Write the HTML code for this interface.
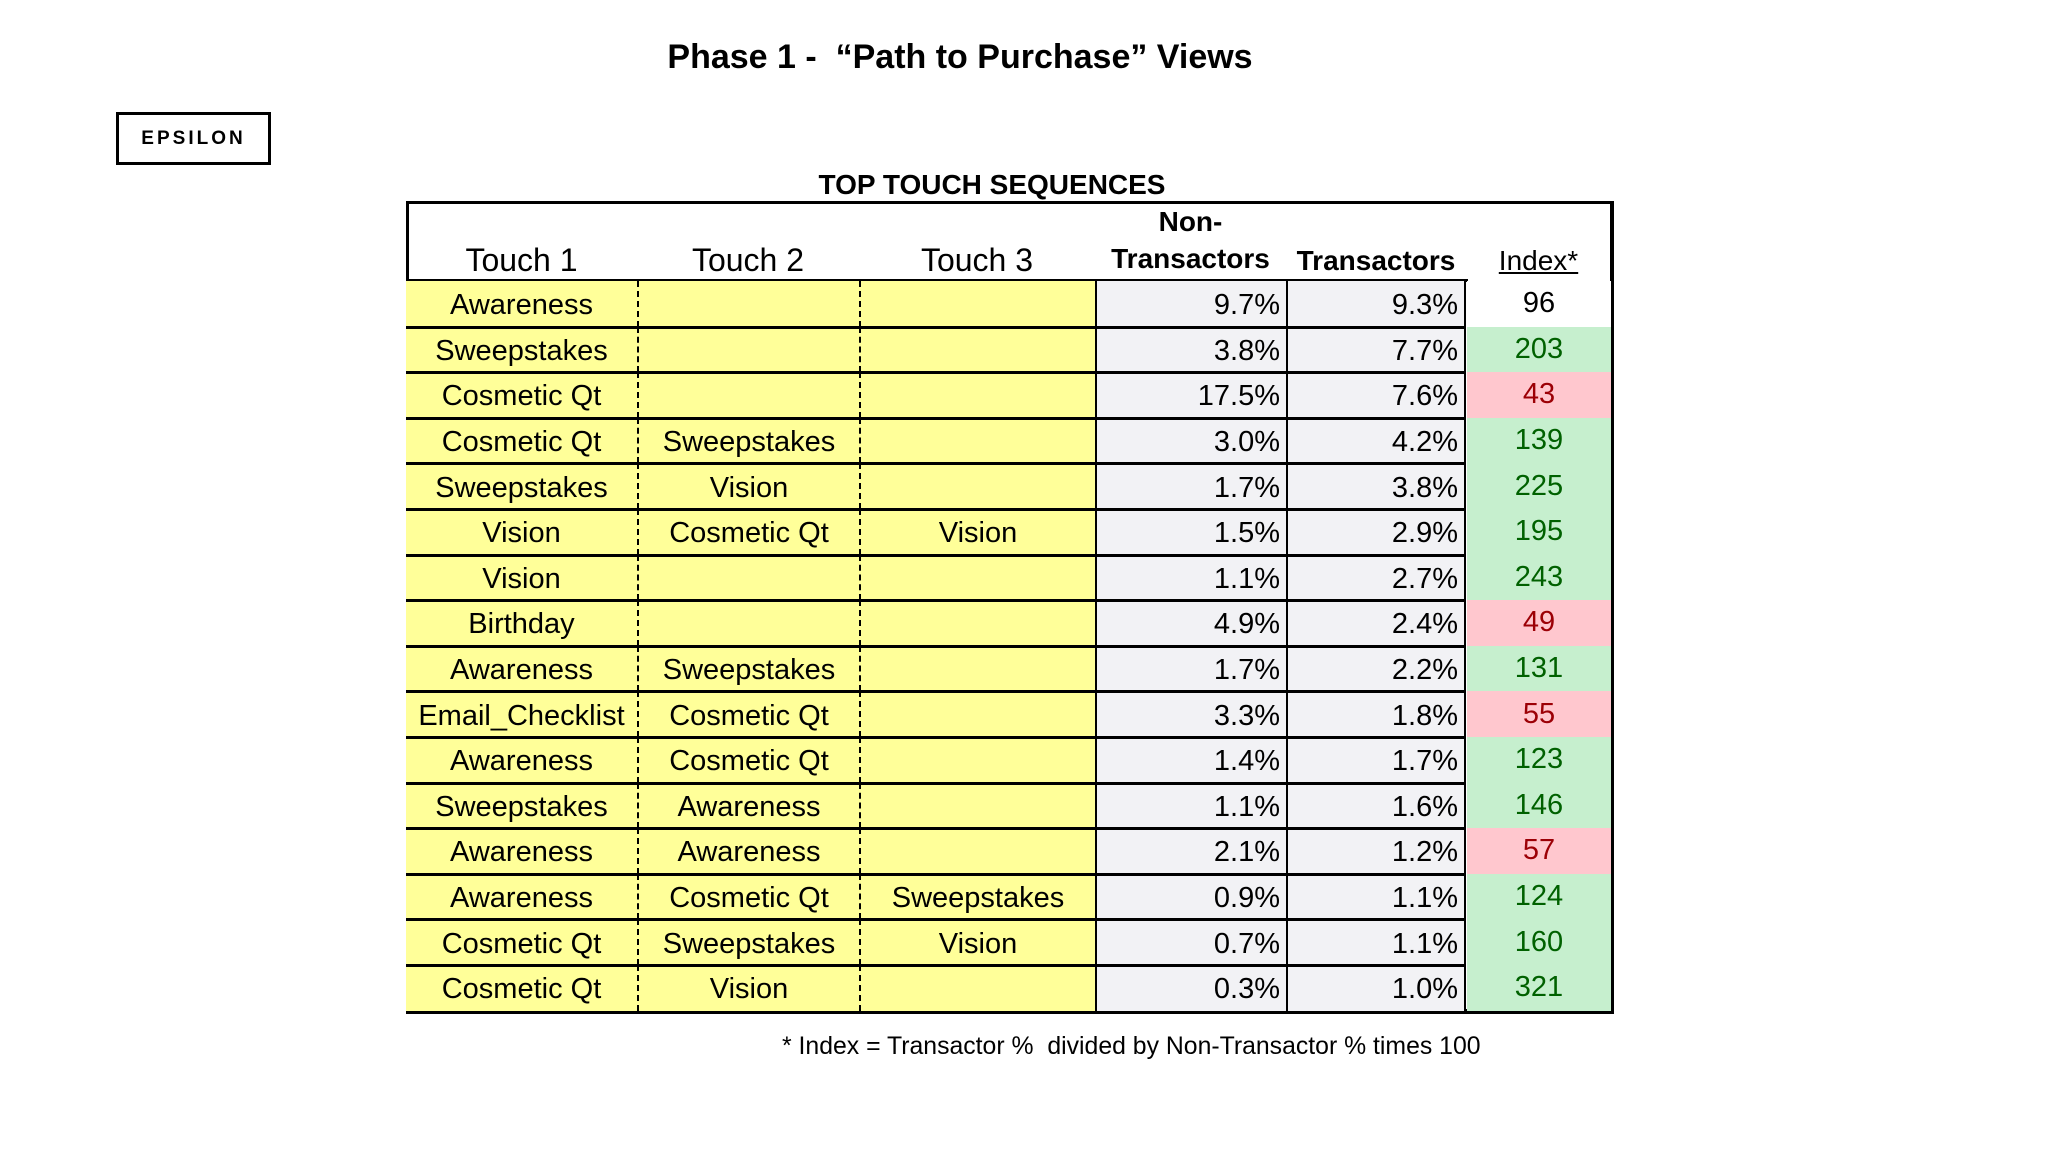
<!DOCTYPE html>
<html><head><meta charset="utf-8">
<style>
body{margin:0;width:2048px;height:1152px;background:#fff;position:relative;overflow:hidden;font-family:"Liberation Sans",Arial,sans-serif;color:#000}
.a{position:absolute}
.c{position:absolute;box-sizing:border-box;display:flex;align-items:center;font-size:29px;white-space:nowrap;overflow:visible}
</style></head><body>
<div class="a" style="left:0;width:1920px;top:38px;text-align:center;font-size:34px;font-weight:bold">Phase 1 -&nbsp; “Path to Purchase” Views</div>
<div class="a" style="left:116px;top:112px;width:155px;height:53px;box-sizing:border-box;border:3px solid #000;text-align:center;line-height:47px;font-size:19px;font-weight:bold;letter-spacing:3px">EPSILON</div>
<div class="a" style="left:0;width:1984px;top:169px;text-align:center;font-size:28px;font-weight:bold">TOP TOUCH SEQUENCES</div>
<div id="tbl" class="a" style="left:0;top:0;width:2048px;height:1152px"></div>
<div class="a" style="left:782px;top:1033px;font-size:24.8px">* Index = Transactor %&nbsp; divided by Non-Transactor % times 100</div>
<script>
const touch1=["Awareness","Sweepstakes","Cosmetic Qt","Cosmetic Qt","Sweepstakes","Vision","Vision","Birthday","Awareness","Email_Checklist","Awareness","Sweepstakes","Awareness","Awareness","Cosmetic Qt","Cosmetic Qt"];
const touch2=["","","","Sweepstakes","Vision","Cosmetic Qt","","","Sweepstakes","Cosmetic Qt","Cosmetic Qt","Awareness","Awareness","Cosmetic Qt","Sweepstakes","Vision"];
const touch3=["","","","","","Vision","","","","","","","","Sweepstakes","Vision",""];
const nonTrans=[9.7,3.8,17.5,3.0,1.7,1.5,1.1,4.9,1.7,3.3,1.4,1.1,2.1,0.9,0.7,0.3];
const trans=[9.3,7.7,7.6,4.2,3.8,2.9,2.7,2.4,2.2,1.8,1.7,1.6,1.2,1.1,1.1,1.0];
const indexVals=[96,203,43,139,225,195,243,49,131,55,123,146,57,124,160,321];

const T=document.getElementById('tbl');
const X=[406,637,859,1095,1286,1466,1611];
const Y0=281,RH=45.6,TOP=201;
function box(x,y,w,h,css,txt,name){
  const d=document.createElement('div');d.className='c';
  d.style.cssText=`left:${x}px;top:${y}px;width:${w}px;height:${h}px;`+css;
  if(txt!==undefined)d.textContent=txt;
  
  
  T.appendChild(d);return d;
}
box(X[0],TOP,X[6]-X[0]+3,Y0+RH*16-TOP+3,'border:3px solid #000;border-right-width:4px;border-bottom-width:5px;','', 'table-frame');
const hd=["Touch 1","Touch 2","Touch 3"];
for(let i=0;i<3;i++){box(X[i],239,X[i+1]-X[i],42,'justify-content:center;font-size:32px;',hd[i],'header-touch-'+(i+1));}
box(X[3],204,X[4]-X[3],36,'justify-content:center;font-weight:bold;font-size:28px;','Non-','header-non-transactors-line1');
box(X[3],240,X[4]-X[3],38,'justify-content:center;font-weight:bold;font-size:28px;','Transactors','header-non-transactors');
box(X[4],242,X[5]-X[4],38,'justify-content:center;font-weight:bold;font-size:28px;','Transactors','header-transactors');
box(X[5],242,X[6]-X[5],38,'justify-content:center;font-size:28px;text-decoration:underline;','Index*','header-index');
box(X[0],Y0-2,X[5]-X[0]+2,3,'background:#000;',undefined,'header-rule');
for(let r=0;r<16;r++){
  const y=Y0+r*RH;
  const t=[touch1[r],touch2[r],touch3[r]];
  for(let i=0;i<3;i++){
    const bl=i>0?'border-left:2px dashed #000;':'';
    box(X[i],y,X[i+1]-X[i],RH,'background:#ffff99;justify-content:center;padding-top:4px;'+bl,t[i],'touch'+(i+1)+'-row-'+(r+1));
  }
  box(X[3],y,X[4]-X[3],RH,'background:#f2f2f5;justify-content:flex-end;padding-right:6px;padding-top:4px;border-left:2px solid #000;',nonTrans[r].toFixed(1)+'%','non-transactor-pct-row-'+(r+1));
  box(X[4],y,X[5]-X[4],RH,'background:#f2f2f5;justify-content:flex-end;padding-right:6px;padding-top:4px;border-left:2px solid #000;border-right:2px solid #000;',trans[r].toFixed(1)+'%','transactor-pct-row-'+(r+1));
  const v=indexVals[r];
  let bg='#fff',fg='#000';
  if(v>=110){bg='#c6efce';fg='#006100';}else if(v<=90){bg='#ffc7ce';fg='#9c0006';}
  box(X[5]+1,y,X[6]-X[5]-1,RH,`background:${bg};color:${fg};justify-content:center;`,String(v),'index-row-'+(r+1));
  if(r>0)box(X[0],y-1,X[5]-X[0],3,'background:#000;',undefined,'row-rule-'+(r+1));
}
</script>
</body></html>
